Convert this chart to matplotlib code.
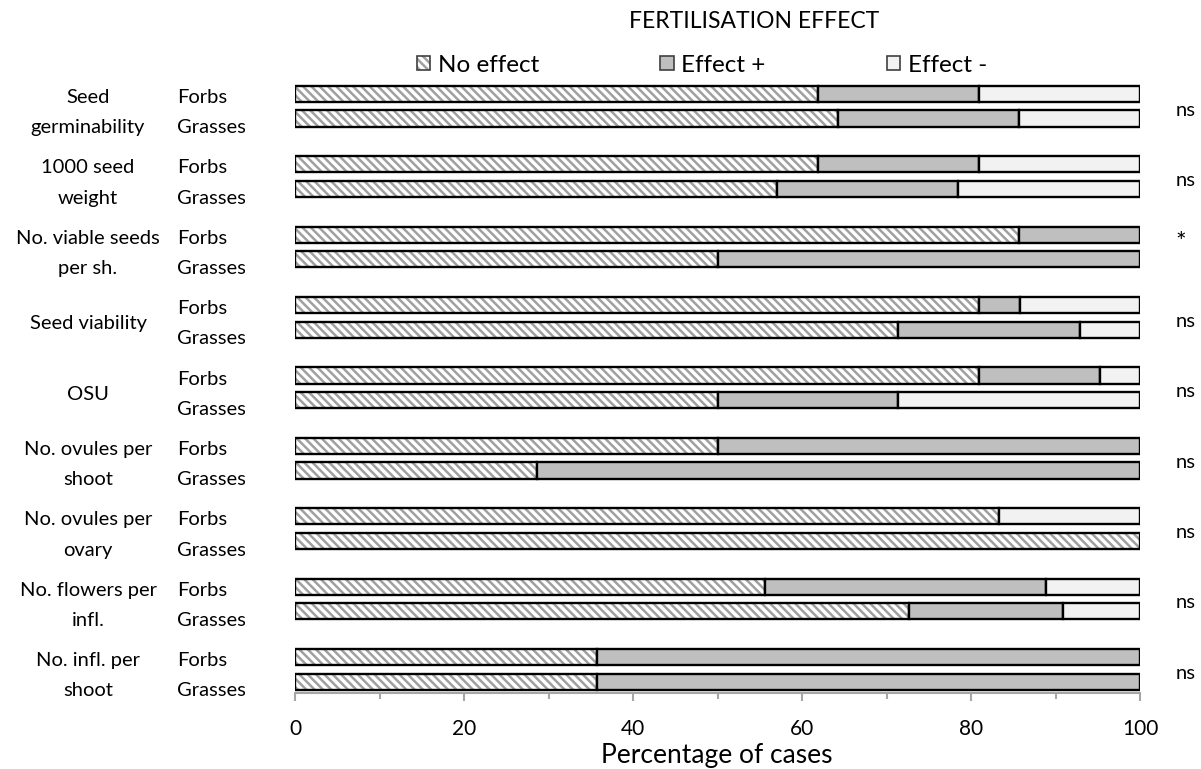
import matplotlib
matplotlib.use("Agg")
from matplotlib import pyplot as plt
from matplotlib.patches import Patch
from matplotlib.transforms import Bbox, blended_transform_factory
import numpy as np

plt.rcParams["font.family"] = ["Lato", "DejaVu Sans"]
plt.rcParams["hatch.linewidth"] = 1.8

traits = ["Seed\ngerminability", "1000 seed\nweight", "No. viable seeds\nper sh.",
          "Seed viability", "OSU", "No. ovules per\nshoot", "No. ovules per\novary",
          "No. flowers per\ninfl.", "No. infl. per\nshoot"]
groups = ["Forbs", "Grasses"]
signif = ["ns", "ns", "*", "ns", "ns", "ns", "ns", "ns", "ns"]
effects = ["No effect", "Effect +", "Effect -"]

# percentage of cases per trait
no_effect_forbs = [61.9, 61.9, 85.7, 81.0, 81.0, 50.0, 83.3, 55.6, 35.7]
effect_pos_forbs = [19.0, 19.0, 14.3, 4.8, 14.3, 50.0, 0.0, 33.3, 64.3]
effect_neg_forbs = [19.1, 19.1, 0.0, 14.2, 4.7, 0.0, 16.7, 11.1, 0.0]
no_effect_grasses = [64.3, 57.1, 50.0, 71.4, 50.0, 28.6, 100.0, 72.7, 35.7]
effect_pos_grasses = [21.4, 21.4, 50.0, 21.5, 21.4, 71.4, 0.0, 18.2, 64.3]
effect_neg_grasses = [14.3, 21.5, 0.0, 7.1, 28.6, 0.0, 0.0, 9.1, 0.0]

fills = ["white", "#bfbfbf", "#f2f2f2"]
hatches = ["\\\\\\\\", None, None]
hatch_gray = "#a0a0a0"
axis_gray = "#a6a6a6"

fig = plt.figure(figsize=(12.01, 7.69), dpi=100)
ax = fig.add_axes([295 / 1201, 76 / 769, 845 / 1201, 633.6 / 769])

pos = np.arange(len(traits))
rows = [
    (pos + 0.49, [no_effect_forbs, effect_pos_forbs, effect_neg_forbs]),
    (pos + 0.84, [no_effect_grasses, effect_pos_grasses, effect_neg_grasses]),
]
bar_h = 0.23
for y, series in rows:
    left = np.zeros(len(traits))
    for vals, fc, h in zip(series, fills, hatches):
        vals = np.array(vals)
        keep = vals > 0
        ax.barh(y[keep], vals[keep], left=left[keep], height=bar_h, color=fc,
                hatch=h, edgecolor=hatch_gray, linewidth=0)
        ax.barh(y[keep], vals[keep], left=left[keep], height=bar_h, fill=False,
                edgecolor="black", linewidth=1.7)
        left = left + vals

ax.set_xlim(0, 100)
ax.set_ylim(len(traits), 0)
ax.set_yticks([])
ax.set_xticks(range(0, 101, 20))
ax.set_xticks(range(10, 100, 20), minor=True)
ax.tick_params(axis="x", which="major", length=6, width=1.5, color=axis_gray,
               pad=13, labelsize=15)
ax.tick_params(axis="x", which="minor", length=4, width=1.5, color=axis_gray)
for s in ["top", "left", "right"]:
    ax.spines[s].set_visible(False)
ax.spines["bottom"].set_color(axis_gray)
ax.spines["bottom"].set_linewidth(1.5)

# row labels on the left, significance on the right
fs = 14.5
tr = blended_transform_factory(fig.transFigure, ax.transData)
for i, name in enumerate(traits):
    lines = name.split("\n")
    if len(lines) == 2:
        ys = [i + 0.54, i + 0.97]
    else:
        ys = [i + 0.755]
    for line, yy in zip(lines, ys):
        ax.text(88 / 1201, yy, line, transform=tr, ha="center", va="center",
                fontsize=fs, clip_on=False)
    ax.text(177 / 1201, i + 0.54, groups[0], transform=tr, ha="left",
            va="center", fontsize=fs, clip_on=False)
    t = ax.text(177 / 1201, i + 0.97, groups[1], transform=tr, ha="left",
                va="center", fontsize=fs)
    t.set_clip_on(True)
    t.set_clip_box(Bbox.from_extents(0, 0, 245, 769))
    if signif[i] == "*":
        ax.text(1181 / 1201, i + 0.6, signif[i], transform=tr, ha="center",
                va="center", fontsize=18, clip_on=False)
    else:
        ax.text(1176 / 1201, i + 0.72, signif[i], transform=tr, ha="left",
                va="center", fontsize=fs, clip_on=False)

handles = [
    (Patch(facecolor="white", hatch=hatches[0], edgecolor=hatch_gray, linewidth=0),
     Patch(fill=False, edgecolor="#404040", linewidth=1.2)),
    Patch(facecolor=fills[1], edgecolor="#404040", linewidth=1.2),
    Patch(facecolor=fills[2], edgecolor="#404040", linewidth=1.2),
]
fig.legend(handles, effects, loc="center", bbox_to_anchor=(702 / 1201, 1 - 65 / 769),
           ncol=3, frameon=False, fontsize=17.5, handlelength=0.55, handleheight=0.55,
           handletextpad=0.3, columnspacing=5.0)
fig.text(754 / 1201, 1 - 22 / 769, "FERTILISATION EFFECT", ha="center", va="center",
         fontsize=16.5)
fig.text(717 / 1201, 6 / 769, "Percentage of cases", ha="center", va="baseline",
         fontsize=19)

fig.savefig("out.png", dpi=100)
